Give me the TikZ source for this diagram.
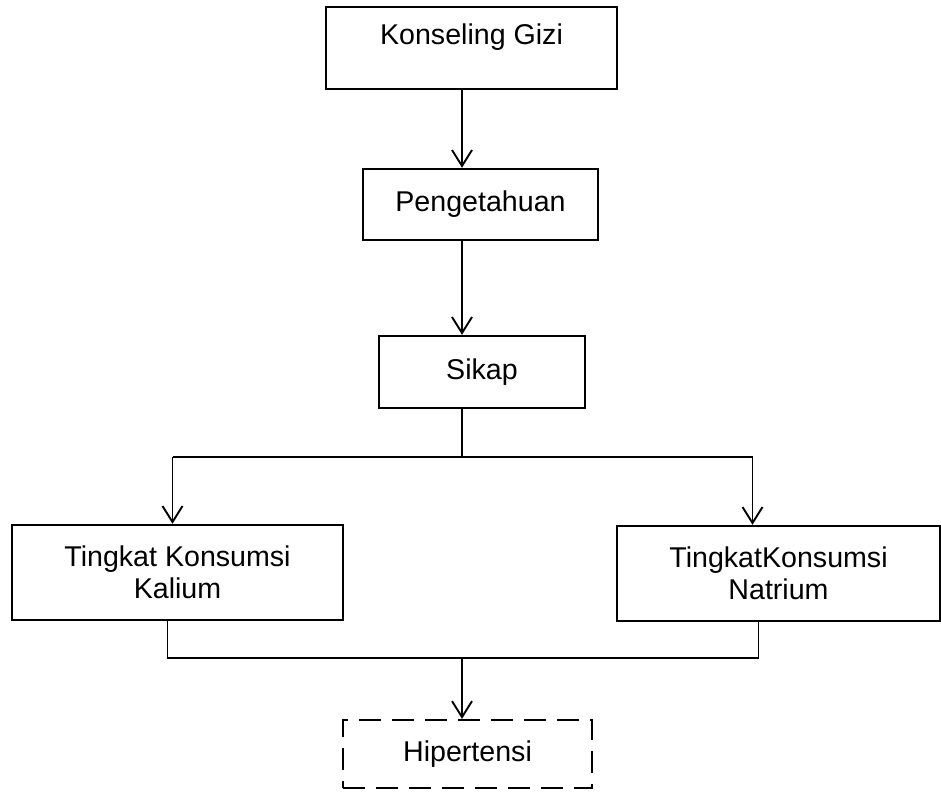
\documentclass[tikz,border=0pt]{standalone}
\usepackage{fontspec}
\setmainfont{Liberation Sans}
\usetikzlibrary{arrows.meta}
\begin{document}
\begin{tikzpicture}[x=1pt,y=-1pt]
        \tikzset{box/.style={draw,line width=2.4pt,align=center,inner sep=0pt,
                font=\fontsize{28.6}{32}\selectfont},
            dashbox/.style={box,line width=2.2pt,dash pattern=on 22pt off 11pt},
            arr/.style={draw,line width=1.9pt,
                -{Straight Barb[length=16pt,width=20pt,line width=1.9pt]}},
            link/.style={draw,line width=1.3pt}}
        \useasboundingbox (0,0) rectangle (941,792);
        \node[box,minimum width=291pt,minimum height=82pt,
            text height=21pt,text depth=27pt] (gizi) at (471.5,48) {Konseling Gizi};
        \node[box,minimum width=235pt,minimum height=71pt] (tahu) at (480.5,204.5) {Pengetahuan};
        \node[box,minimum width=206pt,minimum height=72pt] (sikap) at (482,372) {Sikap};
        \node[box,minimum width=331pt,minimum height=95pt] (kalium) at (177.5,572.5)
            {Tingkat Konsumsi\\Kalium};
        \node[box,minimum width=323pt,minimum height=95pt] (natrium) at (778.5,573.5)
            {TingkatKonsumsi\\Natrium};
        \node[dashbox,minimum width=249pt,minimum height=68pt] (hiper) at (467.5,754) {Hipertensi};
        \coordinate (split) at (462,457);
        \coordinate (join) at (462,658);
        \draw[arr] (gizi.south -| split) -- (tahu.north -| split);
        \draw[arr] (tahu.south -| split) -- (sikap.north -| split);
        \draw[link] (sikap.south -| split) -- (split);
        \draw[link] ([xshift=-5pt]kalium.north |- split) -- ([xshift=-26pt]natrium.north |- split);
        \draw[arr] ([xshift=-5pt]kalium.north |- split) -- ([xshift=-5pt]kalium.north);
        \draw[arr] ([xshift=-26pt]natrium.north |- split) -- ([xshift=-26pt]natrium.north);
        \draw[link] ([xshift=-10pt]kalium.south) |- (join) -| ([xshift=-20pt]natrium.south);
        \draw[arr] (join) -- (hiper.north -| join);
    \end{tikzpicture}
\end{document}
